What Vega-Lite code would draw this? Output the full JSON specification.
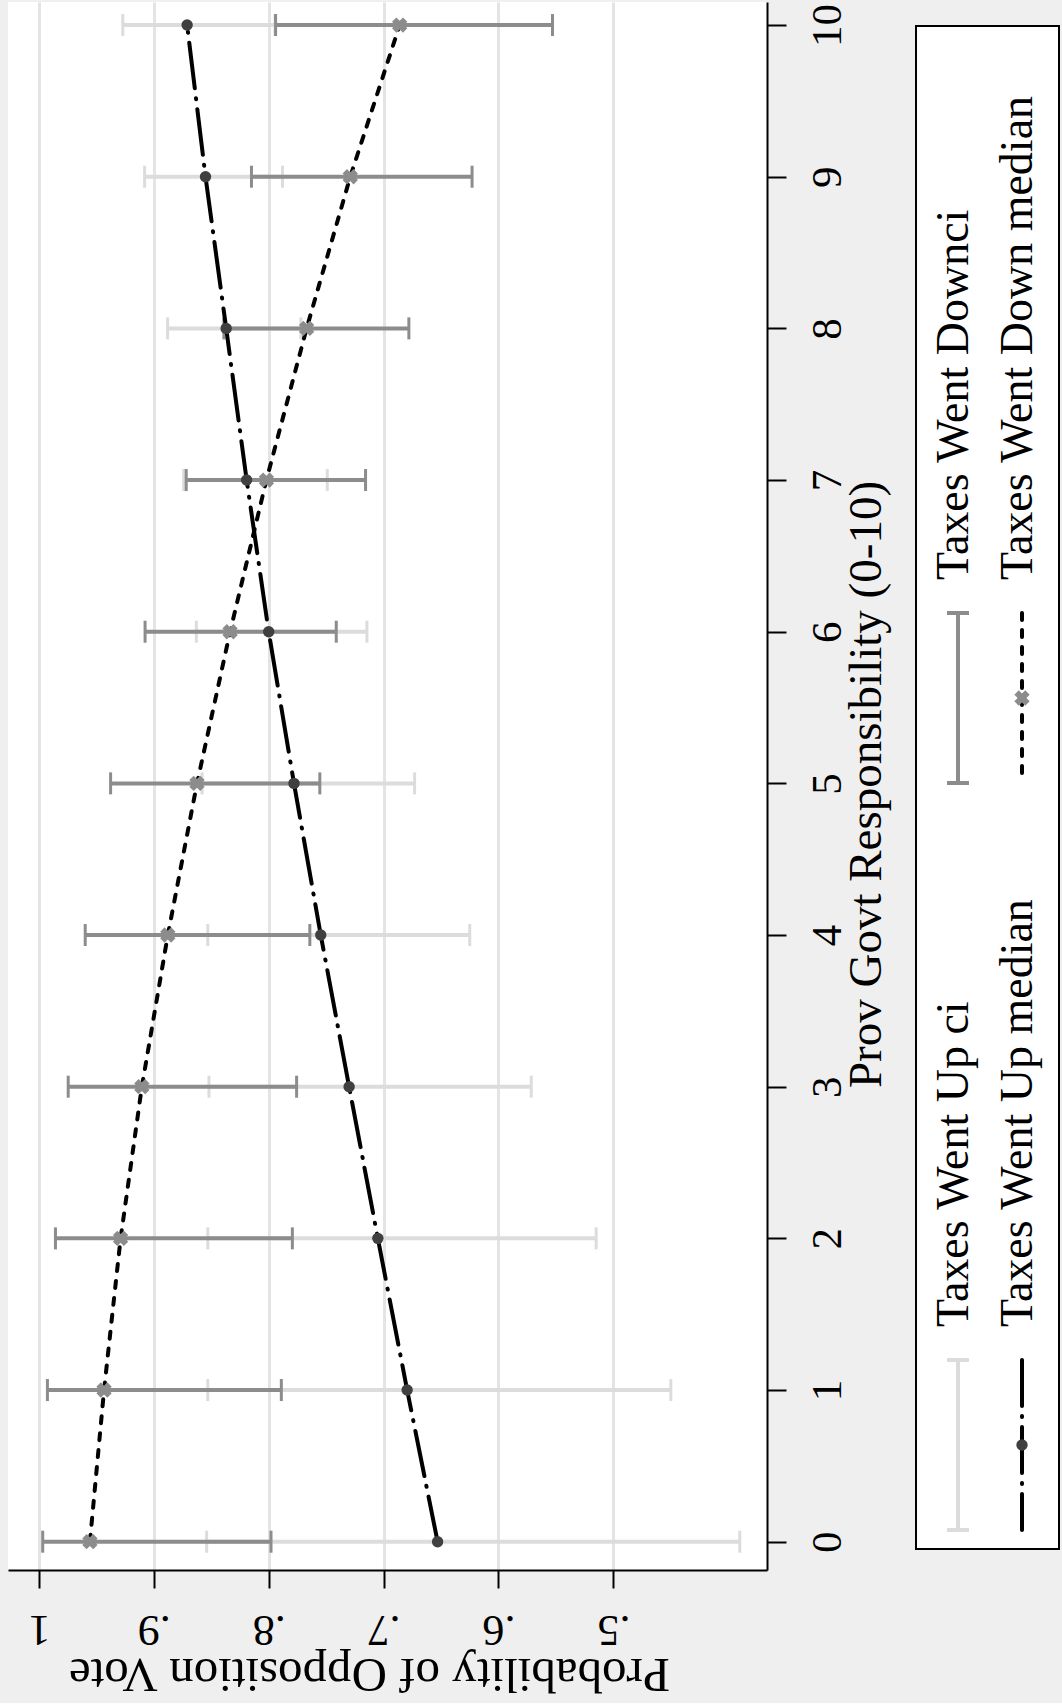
{
  "$schema": "https://vega.github.io/schema/vega-lite/v6.json",
  "background": "#efefef",
  "padding": {"left": 8, "top": 2, "right": 2, "bottom": 6},
  "config": {
    "font": "Liberation Serif",
    "view": {"fill": "white", "stroke": null}
  },
  "datasets": {
    "main": [
      {"k": 0, "grp": "Up", "med": 0.653, "lo": 0.390, "hi": 0.854},
      {"k": 1, "grp": "Up", "med": 0.6795, "lo": 0.450, "hi": 0.853},
      {"k": 2, "grp": "Up", "med": 0.705, "lo": 0.515, "hi": 0.853},
      {"k": 3, "grp": "Up", "med": 0.730, "lo": 0.5715, "hi": 0.852},
      {"k": 4, "grp": "Up", "med": 0.7547, "lo": 0.625, "hi": 0.853},
      {"k": 5, "grp": "Up", "med": 0.778, "lo": 0.673, "hi": 0.858},
      {"k": 6, "grp": "Up", "med": 0.800, "lo": 0.7145, "hi": 0.863},
      {"k": 7, "grp": "Up", "med": 0.8192, "lo": 0.749, "hi": 0.874},
      {"k": 8, "grp": "Up", "med": 0.837, "lo": 0.772, "hi": 0.888},
      {"k": 9, "grp": "Up", "med": 0.855, "lo": 0.788, "hi": 0.908},
      {"k": 10, "grp": "Up", "med": 0.871, "lo": 0.7945, "hi": 0.927},
      {"k": 0, "grp": "Down", "med": 0.9556, "lo": 0.798, "hi": 0.9967},
      {"k": 1, "grp": "Down", "med": 0.9433, "lo": 0.789, "hi": 0.9926},
      {"k": 2, "grp": "Down", "med": 0.9289, "lo": 0.7794, "hi": 0.9856},
      {"k": 3, "grp": "Down", "med": 0.9104, "lo": 0.7757, "hi": 0.9745},
      {"k": 4, "grp": "Down", "med": 0.8878, "lo": 0.7642, "hi": 0.9597},
      {"k": 5, "grp": "Down", "med": 0.8624, "lo": 0.7555, "hi": 0.9376},
      {"k": 6, "grp": "Down", "med": 0.8336, "lo": 0.7412, "hi": 0.9076},
      {"k": 7, "grp": "Down", "med": 0.802, "lo": 0.7157, "hi": 0.8718},
      {"k": 8, "grp": "Down", "med": 0.767, "lo": 0.678, "hi": 0.839},
      {"k": 9, "grp": "Down", "med": 0.729, "lo": 0.623, "hi": 0.815},
      {"k": 10, "grp": "Down", "med": 0.686, "lo": 0.553, "hi": 0.794}
    ],
    "legend": [
      {"col": "ci", "grp": "Up", "label": "Taxes Went Up ci"},
      {"col": "ci", "grp": "Down", "label": "Taxes Went Downci"},
      {"col": "median", "grp": "Up", "label": "Taxes Went Up median"},
      {"col": "median", "grp": "Down", "label": "Taxes Went Down median"}
    ]
  },
  "spacing": 26,
  "hconcat": [
    {
      "width": 759,
      "height": 1568,
      "data": {"name": "main"},
      "encoding": {
        "y": {
          "field": "k", "type": "quantitative",
          "scale": {"domain": [-0.1866, 10.152], "nice": false, "zero": false},
          "axis": {
            "orient": "right",
            "title": "Prov Govt Responsibility (0-10)",
            "values": [0, 1, 2, 3, 4, 5, 6, 7, 8, 9, 10],
            "labelAngle": 270, "labelAlign": "center", "labelBaseline": "middle",
            "labelFontSize": 43, "labelPadding": 41, "labelColor": "black", "labelFlush": false, "labelOverlap": false,
            "tickSize": 19, "tickWidth": 2, "tickColor": "black",
            "domainColor": "black", "domainWidth": 2,
            "grid": false,
            "titleAngle": 270, "titleX": 99, "titleY": 782, "titleAlign": "center", "titleBaseline": "middle",
            "titleFontSize": 47, "titleFontWeight": "normal", "titleColor": "black"
          }
        }
      },
      "layer": [
        {
          "transform": [{"filter": "datum.grp == 'Up'"}],
          "mark": {"type": "rule", "color": "#dcdcdc", "strokeWidth": 4},
          "encoding": {
            "x": {
              "field": "lo", "type": "quantitative",
              "scale": {"domain": [0.3663, 1.0269], "reverse": true, "nice": false, "zero": false},
              "axis": {
                "title": "Probability of Opposition Vote",
                "values": [0.5, 0.6, 0.7, 0.8, 0.9, 1],
                "labelExpr": "datum.value == 1 ? '1' : replace(format(datum.value, '.1f'), '0.', '.')",
                "labelAngle": 180, "labelAlign": "center", "labelBaseline": "middle",
                "labelFontSize": 44, "labelPadding": 40, "labelColor": "black", "labelFlush": false, "labelOverlap": false,
                "tickSize": 18, "tickWidth": 2, "tickColor": "black",
                "domainColor": "black", "domainWidth": 2,
                "grid": true, "gridColor": "#e4e4e4", "gridWidth": 3,
                "titleAngle": 180, "titleX": 361, "titleY": 103, "titleAlign": "center", "titleBaseline": "middle",
                "titleFontSize": 49, "titleFontWeight": "normal", "titleColor": "black"
              }
            },
            "x2": {"field": "hi"}
          }
        },
        {
          "transform": [{"filter": "datum.grp == 'Up'"}],
          "mark": {"type": "rule", "color": "#dcdcdc", "strokeWidth": 3, "yOffset": -11, "y2Offset": 11},
          "encoding": {
            "x": {"field": "lo", "type": "quantitative", "title": "Probability of Opposition Vote", "scale": {"domain": [0.3663, 1.0269], "reverse": true, "nice": false, "zero": false}},
            "y2": {"field": "k"}
          }
        },
        {
          "transform": [{"filter": "datum.grp == 'Up'"}],
          "mark": {"type": "rule", "color": "#dcdcdc", "strokeWidth": 3, "yOffset": -11, "y2Offset": 11},
          "encoding": {
            "x": {"field": "hi", "type": "quantitative", "title": "Probability of Opposition Vote", "scale": {"domain": [0.3663, 1.0269], "reverse": true, "nice": false, "zero": false}},
            "y2": {"field": "k"}
          }
        },
        {
          "transform": [{"filter": "datum.grp == 'Down'"}],
          "mark": {"type": "rule", "color": "#8c8c8c", "strokeWidth": 4},
          "encoding": {
            "x": {"field": "lo", "type": "quantitative", "title": "Probability of Opposition Vote", "scale": {"domain": [0.3663, 1.0269], "reverse": true, "nice": false, "zero": false}},
            "x2": {"field": "hi"}
          }
        },
        {
          "transform": [{"filter": "datum.grp == 'Down'"}],
          "mark": {"type": "rule", "color": "#8c8c8c", "strokeWidth": 3, "yOffset": -11, "y2Offset": 11},
          "encoding": {
            "x": {"field": "lo", "type": "quantitative", "title": "Probability of Opposition Vote", "scale": {"domain": [0.3663, 1.0269], "reverse": true, "nice": false, "zero": false}},
            "y2": {"field": "k"}
          }
        },
        {
          "transform": [{"filter": "datum.grp == 'Down'"}],
          "mark": {"type": "rule", "color": "#8c8c8c", "strokeWidth": 3, "yOffset": -11, "y2Offset": 11},
          "encoding": {
            "x": {"field": "hi", "type": "quantitative", "title": "Probability of Opposition Vote", "scale": {"domain": [0.3663, 1.0269], "reverse": true, "nice": false, "zero": false}},
            "y2": {"field": "k"}
          }
        },
        {
          "transform": [{"filter": "datum.grp == 'Up'"}],
          "mark": {"type": "line", "color": "black", "strokeWidth": 4, "strokeDash": [46, 10, 1, 10], "strokeCap": "round"},
          "encoding": {
            "x": {"field": "med", "type": "quantitative", "title": "Probability of Opposition Vote", "scale": {"domain": [0.3663, 1.0269], "reverse": true, "nice": false, "zero": false}},
            "order": {"field": "k"}
          }
        },
        {
          "transform": [{"filter": "datum.grp == 'Down'"}],
          "mark": {"type": "line", "color": "black", "strokeWidth": 4, "strokeDash": [7, 10], "strokeCap": "round"},
          "encoding": {
            "x": {"field": "med", "type": "quantitative", "title": "Probability of Opposition Vote", "scale": {"domain": [0.3663, 1.0269], "reverse": true, "nice": false, "zero": false}},
            "order": {"field": "k"}
          }
        },
        {
          "transform": [{"filter": "datum.grp == 'Up'"}],
          "mark": {"type": "point", "shape": "circle", "filled": true, "color": "#404040", "opacity": 1, "size": 130},
          "encoding": {
            "x": {"field": "med", "type": "quantitative", "title": "Probability of Opposition Vote", "scale": {"domain": [0.3663, 1.0269], "reverse": true, "nice": false, "zero": false}}
          }
        },
        {
          "transform": [{"filter": "datum.grp == 'Down'"}],
          "mark": {"type": "point", "shape": "cross", "angle": 45, "filled": true, "color": "#8c8c8c", "opacity": 1, "size": 240},
          "encoding": {
            "x": {"field": "med", "type": "quantitative", "title": "Probability of Opposition Vote", "scale": {"domain": [0.3663, 1.0269], "reverse": true, "nice": false, "zero": false}}
          }
        }
      ]
    },
    {
      "spacing": 0,
      "vconcat": [
        {
          "width": 143,
          "height": 23,
          "view": {"fill": null, "stroke": null},
          "data": {"name": "legend"},
          "transform": [{"filter": "false"}],
          "mark": "point",
          "encoding": {}
        },
        {
          "width": 143,
          "height": 1523,
          "view": {"fill": "white", "stroke": "black", "strokeWidth": 2},
          "data": {"name": "legend"},
          "encoding": {
            "x": {"field": "col", "type": "nominal", "scale": {"type": "point", "padding": 0, "domain": ["ci", "median"], "range": [42, 106]}, "axis": null},
            "y": {"field": "grp", "type": "nominal", "scale": {"type": "point", "padding": 0, "domain": ["Down", "Up"], "range": [672, 1419]}, "axis": null}
          },
          "layer": [
            {
              "transform": [{"filter": "datum.col == 'ci'"}],
              "mark": {"type": "rule", "strokeWidth": 4, "yOffset": -85, "y2Offset": 85},
              "encoding": {
                "y2": {"field": "grp"},
                "color": {"field": "grp", "type": "nominal", "scale": {"domain": ["Up", "Down"], "range": ["#dcdcdc", "#8c8c8c"]}, "legend": null}
              }
            },
            {
              "transform": [{"filter": "datum.col == 'ci'"}],
              "mark": {"type": "rule", "strokeWidth": 4, "xOffset": -11, "x2Offset": 11, "yOffset": -85},
              "encoding": {
                "x2": {"field": "col"},
                "color": {"field": "grp", "type": "nominal", "scale": {"domain": ["Up", "Down"], "range": ["#dcdcdc", "#8c8c8c"]}, "legend": null}
              }
            },
            {
              "transform": [{"filter": "datum.col == 'ci'"}],
              "mark": {"type": "rule", "strokeWidth": 4, "xOffset": -11, "x2Offset": 11, "yOffset": 85},
              "encoding": {
                "x2": {"field": "col"},
                "color": {"field": "grp", "type": "nominal", "scale": {"domain": ["Up", "Down"], "range": ["#dcdcdc", "#8c8c8c"]}, "legend": null}
              }
            },
            {
              "transform": [{"filter": "datum.col == 'median' && datum.grp == 'Up'"}],
              "mark": {"type": "rule", "color": "black", "strokeWidth": 4, "strokeDash": [46, 10, 1, 10], "strokeCap": "round", "yOffset": -85, "y2Offset": 85},
              "encoding": {"y2": {"field": "grp"}}
            },
            {
              "transform": [{"filter": "datum.col == 'median' && datum.grp == 'Down'"}],
              "mark": {"type": "rule", "color": "black", "strokeWidth": 4, "strokeDash": [7, 10], "strokeCap": "round", "yOffset": -85, "y2Offset": 85},
              "encoding": {"y2": {"field": "grp"}}
            },
            {
              "transform": [{"filter": "datum.col == 'median' && datum.grp == 'Up'"}],
              "mark": {"type": "point", "shape": "circle", "filled": true, "color": "#404040", "opacity": 1, "size": 130}
            },
            {
              "transform": [{"filter": "datum.col == 'median' && datum.grp == 'Down'"}],
              "mark": {"type": "point", "shape": "cross", "angle": 45, "filled": true, "color": "#8c8c8c", "opacity": 1, "size": 240}
            },
            {
              "mark": {"type": "text", "angle": 270, "align": "left", "baseline": "middle", "fontSize": 46, "color": "black", "yOffset": -118, "xOffset": -4},
              "encoding": {"text": {"field": "label"}}
            }
          ]
        }
      ]
    }
  ]
}
